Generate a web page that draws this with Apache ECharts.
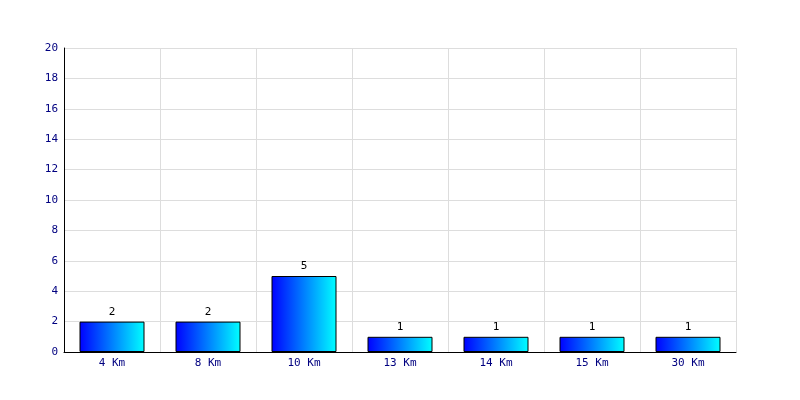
<!DOCTYPE html>
<html><head><meta charset="utf-8">
<script src="https://cdn.jsdelivr.net/npm/echarts@6/dist/echarts.min.js"></script>
<style>html,body{margin:0;padding:0;background:#fff}#c{width:800px;height:400px}</style>
</head><body><div id="c"></div>
<script>
const categories = ['4 Km', '8 Km', '10 Km', '13 Km', '14 Km', '15 Km', '30 Km'];
const values = [2, 2, 5, 1, 1, 1, 1];
const yMin = 0, yMax = 20, yStep = 2;

const chart = echarts.init(document.getElementById('c'), null, {renderer: 'canvas'});
const font = '"DejaVu Sans Mono", monospace';
chart.setOption({
  animation: false,
  backgroundColor: '#fff',
  grid: {left: 64, right: 64, top: 48, bottom: 48, containLabel: false},
  xAxis: {
    type: 'category', data: categories, boundaryGap: true,
    axisLine: {lineStyle: {color: '#000', width: 1}},
    axisTick: {show: false},
    axisLabel: {color: '#000080', fontFamily: font, fontSize: 11, margin: 6},
    splitLine: {show: true, lineStyle: {color: '#dddddd', width: 1}}
  },
  yAxis: {
    type: 'value', min: yMin, max: yMax, interval: yStep,
    axisLine: {show: true, lineStyle: {color: '#000', width: 1}},
    axisTick: {show: false},
    axisLabel: {color: '#000080', fontFamily: font, fontSize: 11, margin: 6},
    splitLine: {show: true, lineStyle: {color: '#dddddd', width: 1}}
  },
  series: [{
    type: 'bar', data: values, barWidth: 65,
    itemStyle: {
      color: new echarts.graphic.LinearGradient(0, 0, 1, 0, [
        {offset: 0, color: '#0000ff'}, {offset: 1, color: '#00ffff'}
      ]),
      borderColor: '#000', borderWidth: 1
    },
    label: {show: true, position: 'top', color: '#000', fontFamily: font, fontSize: 11, distance: 4}
  }]
});
</script></body></html>
